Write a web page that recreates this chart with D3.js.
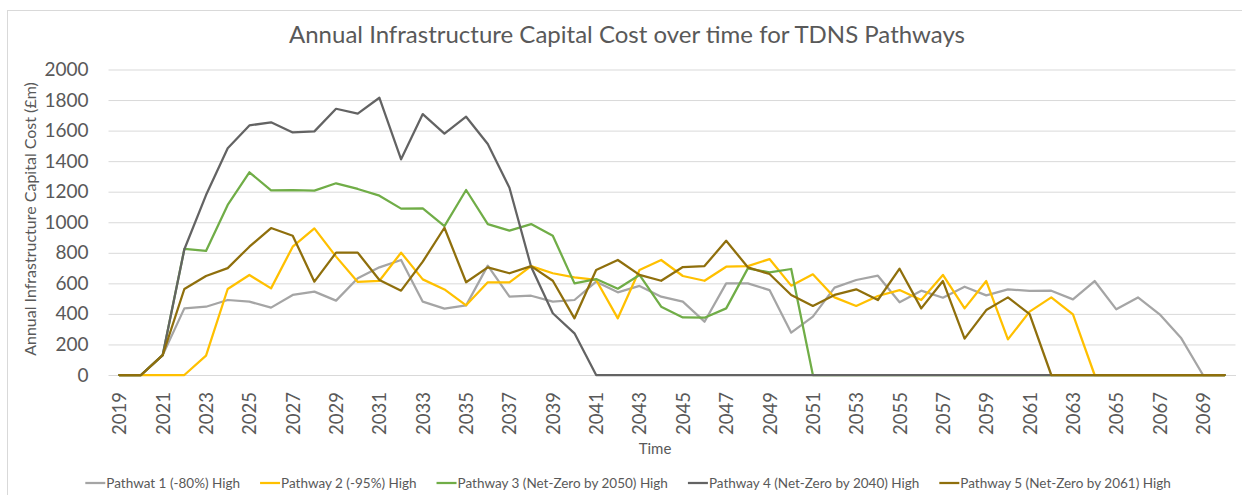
<!DOCTYPE html>
<html>
<head>
<meta charset="utf-8">
<script src="https://cdn.jsdelivr.net/npm/d3@7"></script>
<style>
  body { margin: 0; background: #fff; }
  #chart { width: 1242px; height: 495px; }
  text { font-family: Lato, "Open Sans", sans-serif; fill: #595959; }
  .grid line { stroke: #d9d9d9; stroke-width: 1; }
  .grid .domain { display: none; }
</style>
</head>
<body>
<div id="chart"></div>
<script>
// years on the category axis
const years = [2019, 2020, 2021, 2022, 2023, 2024, 2025, 2026, 2027, 2028, 2029,
  2030, 2031, 2032, 2033, 2034, 2035, 2036, 2037, 2038, 2039,
  2040, 2041, 2042, 2043, 2044, 2045, 2046, 2047, 2048, 2049,
  2050, 2051, 2052, 2053, 2054, 2055, 2056, 2057, 2058, 2059,
  2060, 2061, 2062, 2063, 2064, 2065, 2066, 2067, 2068, 2069, 2070]

const yTicks = [0, 200, 400, 600, 800, 1000, 1200, 1400, 1600, 1800, 2000]

// annual cost, £m
const pathway1 = [0, 0, 130, 436, 447, 491, 480, 441, 524, 546, 487,
  633, 705, 753, 480, 435, 456, 716, 513, 519, 480,
  491, 611, 541, 583, 513, 480, 349, 600, 600, 556,
  277, 382, 572, 622, 650, 476, 552, 506, 578, 521,
  561, 550, 552, 495, 615, 430, 508, 397, 240, 0, 0]
const pathway2 = [0, 0, 0, 0, 127, 563, 655, 567, 840, 960, 775,
  609, 617, 801, 626, 560, 456, 607, 607, 713, 666,
  639, 622, 371, 687, 753, 648, 617, 709, 713, 759,
  585, 659, 508, 452, 517, 556, 491, 655, 436, 615,
  233, 415, 508, 397, 0, 0, 0, 0, 0, 0, 0]
const pathway3 = [0, 0, 130, 825, 812, 1113, 1327, 1209, 1211, 1207, 1255,
  1218, 1174, 1089, 1091, 975, 1211, 988, 945, 988, 912,
  600, 628, 565, 655, 447, 377, 375, 436, 698, 672,
  694, 0, 0, 0, 0, 0, 0, 0, 0, 0,
  0, 0, 0, 0, 0, 0, 0, 0, 0, 0, 0]
const pathway4 = [0, 0, 130, 823, 1178, 1484, 1634, 1654, 1588, 1595, 1743,
  1711, 1815, 1412, 1708, 1580, 1691, 1512, 1226, 709, 404,
  273, 0, 0, 0, 0, 0, 0, 0, 0, 0,
  0, 0, 0, 0, 0, 0, 0, 0, 0, 0,
  0, 0, 0, 0, 0, 0, 0, 0, 0, 0, 0]
const pathway5 = [0, 0, 130, 563, 648, 700, 840, 962, 912, 611, 801,
  801, 622, 552, 742, 964, 607, 705, 666, 713, 617,
  371, 687, 753, 655, 617, 707, 713, 879, 705, 661,
  524, 452, 524, 561, 491, 696, 436, 615, 238, 425,
  508, 399, 0, 0, 0, 0, 0, 0, 0, 0, 0]

const seriesNames = ["Pathwat 1 (-80%) High", "Pathway 2 (-95%) High",
  "Pathway 3 (Net-Zero by 2050) High", "Pathway 4 (Net-Zero by 2040) High",
  "Pathway 5 (Net-Zero by 2061) High"]
const seriesColors = ["#a5a5a5", "#ffc000", "#70ad47", "#636363", "#8f6f0c"]
const seriesValues = [pathway1, pathway2, pathway3, pathway4, pathway5]

const width = 1242, height = 495
const margin = { top: 69.5, right: 6.5, bottom: 120, left: 108.5 }

const svg = d3.select("#chart").append("svg")
  .attr("width", width)
  .attr("height", height)

// outer chart border (only top & left fall inside the picture)
svg.append("rect")
  .attr("x", 7.5).attr("y", 10.5)
  .attr("width", width + 10).attr("height", height + 10)
  .attr("fill", "none").attr("stroke", "#d9d9d9")

const x = d3.scaleBand()
  .domain(years)
  .range([margin.left, width - margin.right])

const y = d3.scaleLinear()
  .domain([0, 2000])
  .range([375, margin.top])

// gridlines + y labels
const yAxis = svg.append("g").attr("class", "grid")
  .attr("transform", `translate(${margin.left},0)`)
  .call(d3.axisLeft(y).tickValues(yTicks)
    .tickFormat(d3.format("d"))
    .tickSize(-(width - margin.right - margin.left))
    .tickPadding(20))
yAxis.selectAll("text")
  .style("font-size", "19px")
  .attr("fill", "#595959")

// x labels, every other year, rotated
const xAxis = svg.append("g")
  .attr("transform", "translate(0,375)")
  .call(d3.axisBottom(x).tickValues(years.filter((d, i) => i % 2 === 0))
    .tickSize(0))
xAxis.select(".domain").attr("stroke", "#d9d9d9")
xAxis.selectAll("text")
  .style("font-size", "18.5px")
  .attr("fill", "#595959")
  .attr("text-anchor", "end")
  .attr("dy", null)
  .attr("transform", "rotate(-90)")
  .attr("x", -17)
  .attr("y", 0)
  .attr("dominant-baseline", "central")

// lines
const line = d3.line()
  .x((d, i) => x(years[i]) + x.bandwidth() / 2)
  .y(d => y(d))

svg.append("g").selectAll("path")
  .data(seriesValues).enter()
  .append("path")
    .attr("d", line)
    .attr("fill", "none")
    .attr("stroke", (d, i) => seriesColors[i])
    .attr("stroke-width", 2.25)
    .attr("stroke-linejoin", "round")
    .attr("stroke-linecap", "round")

// titles
svg.append("text")
  .attr("x", 627).attr("y", 43)
  .attr("text-anchor", "middle")
  .style("font-size", "24px")
  .text("Annual Infrastructure Capital Cost over time for TDNS Pathways")

svg.append("text")
  .attr("transform", "translate(36,219) rotate(-90)")
  .attr("text-anchor", "middle")
  .style("font-size", "16px")
  .text("Annual Infrastructure Capital Cost (£m)")

svg.append("text")
  .attr("x", 655).attr("y", 454)
  .attr("text-anchor", "middle")
  .style("font-size", "15px")
  .text("Time")

// legend, laid out by measured text width and centred
const legend = svg.append("g")
const items = legend.selectAll("g")
  .data(seriesNames).enter()
  .append("g")
items.append("line")
  .attr("x1", 0).attr("x2", 20)
  .attr("y1", 0).attr("y2", 0)
  .attr("stroke", (d, i) => seriesColors[i])
  .attr("stroke-width", 2.25)
items.append("text")
  .attr("x", 21)
  .attr("dy", "0.35em")
  .style("font-size", "13.5px")
  .text(d => d)

const gap = 20
let offset = 0
items.each(function() {
  const w = d3.select(this).select("text").node().getComputedTextLength()
  d3.select(this).attr("transform", `translate(${offset},0)`)
  offset += 21 + w + gap
})
offset -= gap
legend.attr("transform", `translate(${628 - offset / 2},483)`)
</script>
</body>
</html>
